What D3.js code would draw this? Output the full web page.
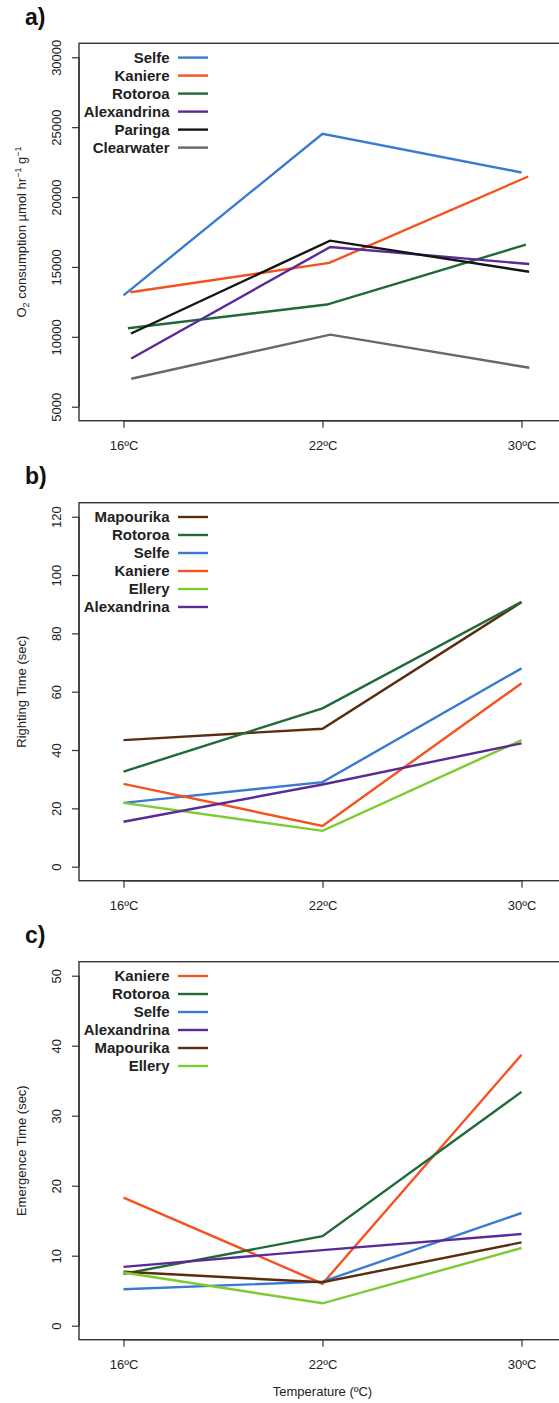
<!DOCTYPE html>
<html>
<head>
<meta charset="utf-8">
<script src="https://cdn.jsdelivr.net/npm/d3@7"></script>
<style>
  html, body { margin: 0; padding: 0; background: #fff; }
  svg { display: block; font-family: "Liberation Sans", Arial, Helvetica, sans-serif; }
</style>
</head>
<body>
<div id="chart"></div>
<script>
// ---------- DATA ----------
const temperatures = ["16ºC", "22ºC", "30ºC"];

// Panel a: O2 consumption
const sitesA = ["Selfe", "Kaniere", "Rotoroa", "Alexandrina", "Paringa", "Clearwater"];
const o2Values = [
  [12970, 24520, 21760],
  [13190, 15290, 21470],
  [10610, 12310, 16590],
  [8450, 16430, 15210],
  [10240, 16880, 14660],
  [7000, 10160, 7790]
];
const o2Ticks = [5000, 10000, 15000, 20000, 25000, 30000];

// Panel b: righting time
const sitesB = ["Mapourika", "Rotoroa", "Selfe", "Kaniere", "Ellery", "Alexandrina"];
const rightingValues = [
  [43.4, 47.3, 90.7],
  [32.6, 54.3, 90.8],
  [21.9, 29.0, 68.0],
  [28.4, 14.0, 62.9],
  [21.9, 12.3, 43.4],
  [15.4, 28.2, 42.3]
];
const rightingTicks = [0, 20, 40, 60, 80, 100, 120];

// Panel c: emergence time
const sitesC = ["Kaniere", "Rotoroa", "Selfe", "Alexandrina", "Mapourika", "Ellery"];
const emergenceValues = [
  [18.3, 6.0, 38.7],
  [7.4, 12.8, 33.4],
  [5.2, 6.3, 16.1],
  [8.4, 10.8, 13.1],
  [7.7, 6.2, 11.9],
  [7.6, 3.2, 11.1]
];
const emergenceTicks = [0, 10, 20, 30, 40, 50];

// ---------- STYLE ----------
const siteColor = {
  "Selfe": "#3a7bd0",
  "Kaniere": "#f5521f",
  "Rotoroa": "#1f6a38",
  "Alexandrina": "#5b2a98",
  "Paringa": "#151515",
  "Clearwater": "#686868",
  "Mapourika": "#5a2d0f",
  "Ellery": "#7dcb30"
};
// small horizontal dodge used in panel a (fraction of category step)
const dodgeA = {"Selfe": 0, "Kaniere": 0.034, "Rotoroa": 0.022, "Alexandrina": 0.039, "Paringa": 0.038, "Clearwater": 0.039};

const W = 559, H = 1403;
const svg = d3.select("#chart").append("svg").attr("width", W).attr("height", H);

const x = d3.scaleLinear().domain([-0.2236, 2.2236]).range([79, 566]);

const panels = [
  {label: "a)", top: 43.3, bottom: 420.7, sites: sitesA, values: o2Values, ticks: o2Ticks,
   lim: [5000, 30000], dodge: dodgeA, ylab: "o2"},
  {label: "b)", top: 502.7, bottom: 880.7, sites: sitesB, values: rightingValues, ticks: rightingTicks,
   lim: [0, 120], dodge: null, ylab: "Righting Time (sec)"},
  {label: "c)", top: 961.7, bottom: 1339.7, sites: sitesC, values: emergenceValues, ticks: emergenceTicks,
   lim: [0, 50], dodge: null, ylab: "Emergence Time (sec)"}
];

const axisColor = "#333";
const textColor = "#222";

panels.forEach(p => {
  const ext = (p.lim[1] - p.lim[0]) * 0.04;
  const y = d3.scaleLinear().domain([p.lim[0] - ext, p.lim[1] + ext]).range([p.bottom, p.top]);
  const g = svg.append("g");

  // panel label
  g.append("text").attr("x", 25).attr("y", p.top - 18.3)
    .attr("font-size", 23).attr("font-weight", "bold").attr("fill", "#111")
    .text(p.label);

  // box
  g.append("rect").attr("x", x.range()[0]).attr("y", p.top)
    .attr("width", x.range()[1] - x.range()[0]).attr("height", p.bottom - p.top)
    .attr("fill", "none").attr("stroke", axisColor).attr("stroke-width", 1.4);

  // y axis
  const yAxis = d3.axisLeft(y).tickValues(p.ticks).tickSize(7).tickFormat(d3.format("d"));
  const ya = g.append("g").attr("transform", `translate(${x.range()[0]},0)`).call(yAxis);
  ya.select(".domain").attr("d", `M0,${y(p.ticks[0])}V${y(p.ticks[p.ticks.length - 1])}`)
    .attr("stroke", axisColor).attr("stroke-width", 1.4);
  ya.selectAll(".tick line").attr("stroke", axisColor).attr("stroke-width", 1.2);
  ya.selectAll(".tick text")
    .attr("x", null).attr("dy", null)
    .attr("transform", "translate(-18,0) rotate(-90)")
    .attr("text-anchor", "middle")
    .attr("font-size", 13).attr("fill", textColor)
    .attr("font-family", "Liberation Sans, Arial, sans-serif");

  // x axis
  const xAxis = d3.axisBottom(x).tickValues([0, 1, 2]).tickSize(7).tickFormat(i => temperatures[i]);
  const xa = g.append("g").attr("transform", `translate(0,${p.bottom})`).call(xAxis);
  xa.select(".domain").attr("d", `M${x(0)},0H${x(2)}`).attr("stroke", axisColor).attr("stroke-width", 1.4);
  xa.selectAll(".tick line").attr("stroke", axisColor).attr("stroke-width", 1.2);
  xa.selectAll(".tick text").attr("y", 29.5).attr("dy", null)
    .attr("font-size", 13).attr("fill", textColor)
    .attr("font-family", "Liberation Sans, Arial, sans-serif");

  // y label
  const cy = (p.top + p.bottom) / 2;
  const yl = g.append("text")
    .attr("transform", `translate(26,${cy}) rotate(-90)`)
    .attr("text-anchor", "middle").attr("font-size", 13).attr("fill", textColor);
  if (p.ylab === "o2") {
    yl.append("tspan").text("O");
    yl.append("tspan").attr("font-size", 9).attr("dy", 3).text("2");
    yl.append("tspan").attr("dy", -3).text(" consumption µmol hr");
    yl.append("tspan").attr("font-size", 9).attr("dy", -5).text("−1");
    yl.append("tspan").attr("dy", 5).text(" g");
    yl.append("tspan").attr("font-size", 9).attr("dy", -5).text("−1");
  } else {
    yl.text(p.ylab);
  }

  // lines
  const line = d3.line();
  p.sites.forEach((s, si) => {
    const off = p.dodge ? p.dodge[s] : 0;
    const pts = p.values[si].map((v, i) => [x(i + off), y(v)]);
    g.append("path").attr("d", line(pts))
      .attr("fill", "none").attr("stroke", siteColor[s])
      .attr("stroke-width", 2.4).attr("stroke-linejoin", "miter");
  });

  // legend
  const lg = g.append("g");
  p.sites.forEach((s, si) => {
    const ly = p.top + 14.3 + si * 18;
    lg.append("text").attr("x", 169.5).attr("y", ly).attr("dy", "0.36em")
      .attr("text-anchor", "end").attr("font-size", 15).attr("font-weight", "bold")
      .attr("fill", textColor).text(s);
    lg.append("line").attr("x1", 178).attr("x2", 208).attr("y1", ly).attr("y2", ly)
      .attr("stroke", siteColor[s]).attr("stroke-width", 2.4);
  });
});

// x axis title
svg.append("text").attr("x", x(1)).attr("y", 1395.5).attr("text-anchor", "middle")
  .attr("font-size", 13).attr("fill", textColor).text("Temperature (ºC)");
</script>
</body>
</html>
